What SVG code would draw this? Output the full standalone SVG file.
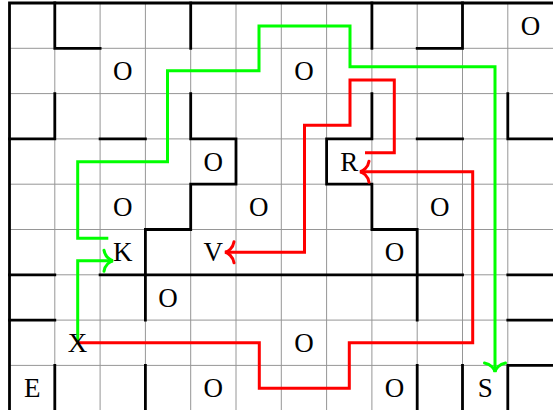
<svg xmlns="http://www.w3.org/2000/svg" width="553" height="410" viewBox="0 0 553 410">
<style>
.grid{stroke:#969696;stroke-width:1;fill:none}
.wall{stroke:#000;stroke-width:2.8;fill:none;stroke-linecap:square;stroke-linejoin:miter}
.g{stroke:#00ff00;stroke-width:3;fill:none;stroke-linejoin:miter}
.r{stroke:#ff0000;stroke-width:3;fill:none;stroke-linejoin:miter}
text{font-family:"Liberation Serif","DejaVu Serif",serif;font-size:27px;text-anchor:middle;fill:#000}
</style>
<defs>
<marker id="ag" markerUnits="userSpaceOnUse" viewBox="-12 -12 14 24" refX="0" refY="0" markerWidth="14" markerHeight="24" orient="auto" overflow="visible">
<path d="M-9,-10.5 C-8,-4 -3,-0.6 0,0 C-3,0.6 -8,4 -9,10.5" fill="none" stroke="#00ff00" stroke-width="3" stroke-linecap="round"/>
</marker>
<marker id="ar" markerUnits="userSpaceOnUse" viewBox="-12 -12 14 24" refX="0" refY="0" markerWidth="14" markerHeight="24" orient="auto" overflow="visible">
<path d="M-9,-10.5 C-8,-4 -3,-0.6 0,0 C-3,0.6 -8,4 -9,10.5" fill="none" stroke="#ff0000" stroke-width="3" stroke-linecap="round"/>
</marker>
</defs>
<rect x="0" y="0" width="553" height="410" fill="#fff"/>
<g id="grid" class="grid">
<path d="M54.8,3V410.7M100.1,3V410.7M145.4,3V410.7M190.7,3V410.7M236,3V410.7M281.3,3V410.7M326.6,3V410.7M371.9,3V410.7M417.2,3V410.7M462.5,3V410.7M507.8,3V410.7M9.5,48.3H553.1M9.5,93.6H553.1M9.5,138.9H553.1M9.5,184.2H553.1M9.5,229.5H553.1M9.5,274.8H553.1M9.5,320.1H553.1M9.5,365.4H553.1"/>
</g>
<g id="walls" class="wall">
<path d="M9.5,410.7V3H553.1"/>
<path d="M54.8,3V48.3H100.1"/>
<path d="M190.7,3V48.3"/>
<path d="M371.9,3V48.3"/>
<path d="M462.5,3V48.3H417.2"/>
<path d="M54.8,93.6V138.9H9.5"/>
<path d="M100.1,138.9H145.4"/>
<path d="M190.7,93.6V138.9H236V184.2H190.7V229.5H145.4V320.1"/>
<path d="M371.9,93.6V138.9H326.6V184.2H371.9V229.5H417.2V320.1"/>
<path d="M417.2,138.9H462.5"/>
<path d="M507.8,93.6V138.9H553.1"/>
<path d="M9.5,274.8H54.8M100.1,274.8H462.5M507.8,274.8H553.1"/>
<path d="M9.5,320.1H54.8M507.8,320.1H553.1"/>
<path d="M553.1,365.4H507.8V410.7"/>
<path d="M54.8,365.4V410.7M145.4,365.4V410.7M417.2,365.4V410.7M462.5,365.4V410.7"/>
</g>
<g id="connectors">
<path id="K-S" class="g" marker-end="url(#ag)" d="M108.3,238.3H77.7V161.7H167.5V70.7H259V26H350V66.7H495V372"/>
<path id="X-K" class="g" marker-end="url(#ag)" d="M77.7,342.7V260.7H113"/>
<path id="X-R" class="r" marker-end="url(#ar)" d="M77.7,342.7H259.3V388.3H349.3V342.7H472.7V171.7H360"/>
<path id="R-V" class="r" marker-end="url(#ar)" d="M365,152.7H394.3V80H350V125.3H304.5V252.3H225"/>
</g>
<g id="n-O1"><text x="530.45" y="35">O</text></g>
<g id="n-O2"><text x="122.75" y="80.2">O</text></g>
<g id="n-O3"><text x="303.95" y="80.2">O</text></g>
<g id="n-O4"><text x="213.35" y="170.8">O</text></g>
<g id="n-R"><text x="349.25" y="170.8">R</text></g>
<g id="n-O5"><text x="122.75" y="216.1">O</text></g>
<g id="n-O6"><text x="258.65" y="216.1">O</text></g>
<g id="n-O7"><text x="439.85" y="216.1">O</text></g>
<g id="n-K"><text x="122.75" y="261.4">K</text></g>
<g id="n-V"><text x="213.35" y="261.4">V</text></g>
<g id="n-O8"><text x="394.55" y="261.4">O</text></g>
<g id="n-O9"><text x="168.05" y="306.7">O</text></g>
<g id="n-X"><text x="77.45" y="352">X</text></g>
<g id="n-O10"><text x="303.95" y="352">O</text></g>
<g id="n-E"><text x="32.15" y="397.3">E</text></g>
<g id="n-O11"><text x="213.35" y="397.3">O</text></g>
<g id="n-O12"><text x="394.55" y="397.3">O</text></g>
<g id="n-S"><text x="485.15" y="397.3">S</text></g>
</svg>
